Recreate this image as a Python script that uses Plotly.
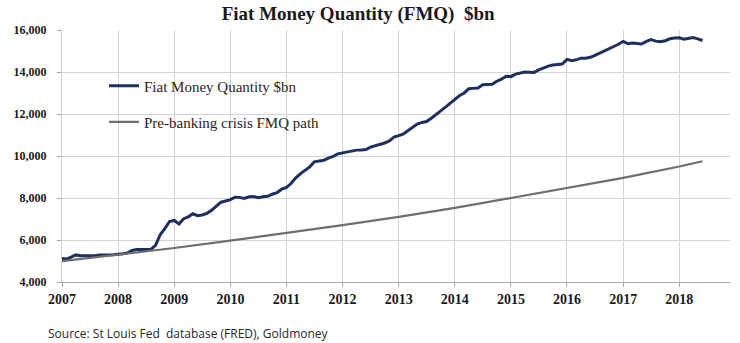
import pandas as pd
import plotly.graph_objects as go

# Monthly fiat money quantity, $bn, Jan 2007 - Jun 2018
fmq_start = "2007-01-01"
fmq_values = [
    # 2007
    5120, 5090, 5180, 5290, 5250, 5240, 5240, 5250, 5280, 5270, 5290, 5300,
    # 2008
    5340, 5350, 5380, 5500, 5550, 5540, 5540, 5550, 5750, 6250, 6550, 6880,
    # 2009
    6930, 6760, 7000, 7100, 7250, 7160, 7190, 7270, 7420, 7620, 7800, 7860,
    # 2010
    7920, 8040, 8030, 7980, 8060, 8070, 8010, 8060, 8080, 8180, 8260, 8420,
    # 2011
    8500, 8700, 8950, 9150, 9300, 9480, 9720, 9760, 9800, 9900, 9980, 10100,
    # 2012
    10150, 10200, 10230, 10280, 10290, 10310, 10420, 10480, 10540, 10620, 10720, 10900,
    # 2013
    10970, 11050, 11200, 11380, 11520, 11600, 11640, 11800, 11960, 12150, 12330, 12520,
    # 2014
    12720, 12880, 12990, 13200, 13220, 13240, 13390, 13400, 13420, 13560, 13660, 13800,
    # 2015
    13780, 13900, 13950, 14000, 13990, 13980, 14100, 14200, 14280, 14330, 14340, 14380,
    # 2016
    14600, 14540, 14580, 14660, 14660, 14700, 14790, 14890, 14990, 15090, 15200, 15320,
    # 2017
    15460, 15350, 15380, 15370, 15330, 15460, 15540, 15470, 15440, 15490, 15580, 15620,
    # 2018
    15630, 15560, 15600, 15640, 15580, 15500,
]

# Pre-banking-crisis trend path, $bn
path_dates = [
    "2007-01-01", "2008-01-01", "2009-01-01", "2010-01-01", "2011-01-01",
    "2012-01-01", "2013-01-01", "2014-01-01", "2015-01-01", "2016-01-01",
    "2017-01-01", "2018-01-01", "2018-06-01",
]
path_values = [4990, 5300, 5620, 5970, 6330, 6710, 7100, 7530, 8000, 8470, 8960, 9500, 9750]

year_ticks = [f"{y}-01-01" for y in range(2007, 2019)]
year_labels = [str(y) for y in range(2007, 2019)]
y_ticks = [4000, 6000, 8000, 10000, 12000, 14000, 16000]

fmq_dates = pd.date_range(fmq_start, periods=len(fmq_values), freq="MS")

SERIF = "Liberation Serif, Times New Roman, serif"
NAVY = "#1f2f5f"
GREY = "#6e6e6e"
GRID = "#d4d4d4"

fig = go.Figure()
fig.add_trace(go.Scatter(
    x=fmq_dates, y=fmq_values, mode="lines",
    name="Fiat Money Quantity $bn",
    line=dict(color=NAVY, width=3),
    legend="legend",
))
fig.add_trace(go.Scatter(
    x=path_dates, y=path_values, mode="lines",
    name="Pre-banking crisis FMQ path",
    line=dict(color=GREY, width=2.2),
    legend="legend2",
))

legend_style = dict(
    bgcolor="rgba(0,0,0,0)",
    font=dict(family=SERIF, size=15, color="#262626"),
    xanchor="left", yanchor="middle",
    itemwidth=30,
)

fig.update_layout(
    width=740, height=343,
    margin=dict(l=62, r=10, t=30, b=61),
    paper_bgcolor="white",
    plot_bgcolor="white",
    showlegend=True,
    title=dict(
        text="Fiat Money Quantity (FMQ)\u00a0\u00a0$bn",
        font=dict(family=SERIF, size=19, color="#1a1a1a", weight="bold"),
        xref="container", x=0.484, xanchor="center",
        yref="container", y=1 - 13 / 343, yanchor="middle",
    ),
    legend=dict(x=(104 - 62) / 668, y=(281.7 - 86) / 251.7, **legend_style),
    legend2=dict(x=(104 - 62) / 668, y=(281.7 - 122) / 251.7, **legend_style),
    xaxis=dict(
        type="date",
        range=["2007-01-01", "2018-11-27"],
        tickvals=year_ticks, ticktext=year_labels,
        showgrid=True, gridcolor=GRID, gridwidth=1,
        ticks="outside", ticklen=4, tickcolor="#a6a6a6",
        showline=True, linecolor="#a6a6a6", linewidth=1,
        tickfont=dict(family=SERIF, size=14, color="#1a1a1a", weight="bold"),
        zeroline=False,
    ),
    yaxis=dict(
        range=[4000, 16000],
        tickvals=y_ticks, tickformat=",d",
        showgrid=True, gridcolor=GRID, gridwidth=1,
        ticks="outside", ticklen=4, tickcolor="#a6a6a6",
        showline=True, linecolor=GRID, linewidth=1,
        tickfont=dict(family=SERIF, size=12, color="#1a1a1a", weight="bold"),
        ticklabelstandoff=8,
        zeroline=False,
    ),
    annotations=[dict(
        text="Source: St Louis Fed\u00a0\u00a0database (FRED), Goldmoney",
        xref="paper", yref="paper",
        x=(46 - 62) / 668, y=-(333 - 281.7) / 251.7,
        xanchor="left", yanchor="middle", showarrow=False,
        font=dict(family="Open Sans, sans-serif", size=12, color="#262626"),
    )],
)

fig.write_html("out.html")
